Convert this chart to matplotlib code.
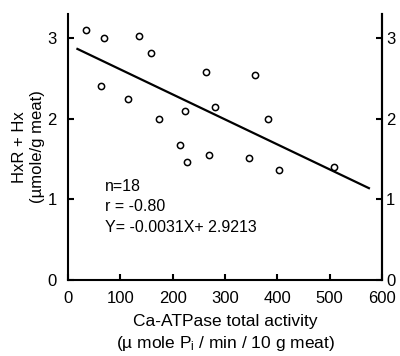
import matplotlib.pyplot as plt
import numpy as np

# Ca-ATPase total activity vs HxR + Hx
activity = [34, 68, 64, 135, 115, 159, 174, 224, 214, 228,
            264, 280, 270, 357, 383, 346, 403, 509]
hxr_hx = [3.10, 3.00, 2.41, 3.03, 2.25, 2.82, 2.00, 2.10, 1.68, 1.46,
          2.58, 2.15, 1.55, 2.54, 2.00, 1.51, 1.37, 1.40]

slope, intercept = -0.0031, 2.9213
fit_x = np.array([18, 575])

x_ticks = [0, 100, 200, 300, 400, 500, 600]
y_ticks = [0, 1, 2, 3]

plt.rcParams['font.family'] = ['Liberation Sans', 'DejaVu Sans']
plt.rcParams['mathtext.fontset'] = 'custom'
plt.rcParams['mathtext.rm'] = 'Liberation Sans'
plt.rcParams['mathtext.it'] = 'Liberation Sans'

fig = plt.figure(figsize=(4, 3.56), dpi=100)
ax = fig.add_axes([0.17, 0.2135, 0.785, 0.7475])

ax.plot(activity, hxr_hx, 'o', mfc='white', mec='black', ms=4.5, mew=1.1)
ax.plot(fit_x, slope * fit_x + intercept, color='black', lw=1.6)

ax.set_xlim(0, 595)
ax.set_ylim(0, 3.3)
ax.set_xticks(x_ticks)
ax.set_yticks(y_ticks)
ax.spines['top'].set_visible(False)
for s in ['left', 'right', 'bottom']:
    ax.spines[s].set_linewidth(1.5)
ax.tick_params(direction='in', width=1.5, length=4, labelsize=12)
ax.tick_params(axis='x', pad=8)
ax.tick_params(axis='y', pad=8)

# mirrored scale on the right, labels tucked against the spine
sec = ax.secondary_yaxis('right')
sec.set_yticks(y_ticks)
sec.spines['right'].set_linewidth(1.5)
sec.tick_params(direction='in', width=1.5, length=4, labelsize=12, pad=3)

ax.text(70, 1.1, 'n=18', fontsize=11.5)
ax.text(70, 0.86, 'r = -0.80', fontsize=11.5)
ax.text(70, 0.6, 'Y= -0.0031X+ 2.9213', fontsize=11.5)

ax.set_xlabel('Ca-ATPase total activity\n(\u00b5 mole P$_\\mathregular{i}$ / min / 10 g meat)',
              fontsize=12.5, labelpad=6, linespacing=1.35)
ax.set_ylabel('HxR + Hx\n(\u00b5mole/g meat)', fontsize=12, labelpad=2)

fig.savefig('out.png', dpi=100)
